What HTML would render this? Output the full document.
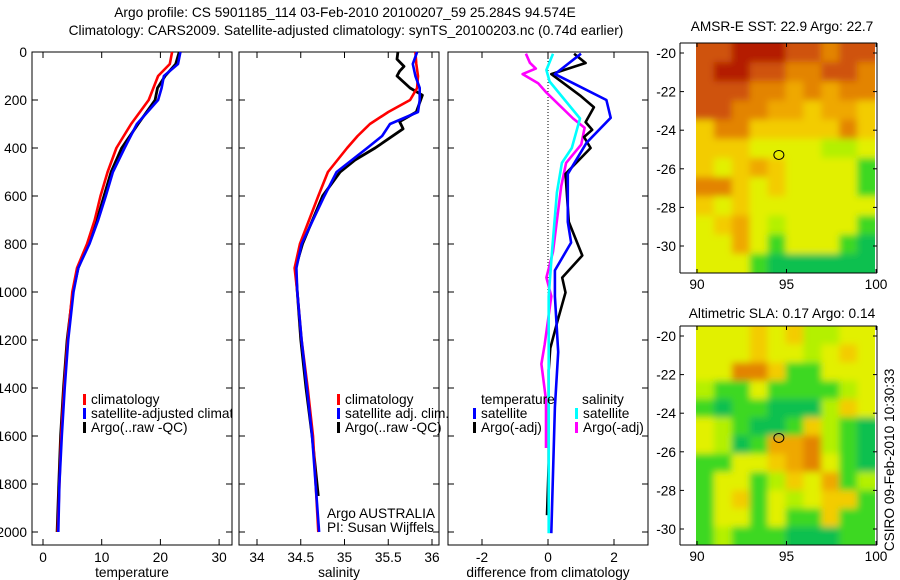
<!DOCTYPE html>
<html><head><meta charset="utf-8">
<style>
html,body{margin:0;padding:0;background:#fff;}
svg{display:block;font-family:"Liberation Sans",sans-serif;}
text{font-size:13.7px;fill:#000;}
</style></head>
<body>
<svg id="c" width="900" height="580" viewBox="0 0 900 580">
<defs>
<filter id="fblur" filterUnits="userSpaceOnUse" x="680" y="0" width="220" height="580"><feGaussianBlur stdDeviation="3.5"/></filter>
</defs>
<text x="345" y="17" text-anchor="middle">Argo profile: CS 5901185_114 03-Feb-2010 20100207_59 25.284S 94.574E</text>
<text x="346" y="35" text-anchor="middle">Climatology: CARS2009. Satellite-adjusted climatology: synTS_20100203.nc (0.74d earlier)</text>
<text x="782" y="31" text-anchor="middle">AMSR-E SST: 22.9 Argo: 22.7</text>
<text x="782" y="318" text-anchor="middle">Altimetric SLA: 0.17 Argo: 0.14</text>
<text x="0" y="0" transform="translate(894,460) rotate(-90)" text-anchor="middle">CSIRO 09-Feb-2010 10:30:33</text>
</svg>
<script>
// ---------- data ----------
var tDepth=[0,50,100,150,200,300,400,500,600,700,800,900,1000,1200,1400,1600,1800,2000];
var tClim=[22,21.6,19.6,18.8,18,15,12.5,11,9.8,8.8,7.5,5.8,5,4.2,3.6,3.1,2.8,2.5];
var tSat=[23.4,23,20.6,20.2,19.6,16,13.9,11.9,10.7,9.4,7.9,6,5.2,4.3,3.7,3.2,2.8,2.6];
var tArgo=[23.2,22.6,20.8,19.5,19.1,16.2,13.4,11.6,10.4,9.2,7.7,6,5.1,4.1,3.5,3,2.7,2.4];
var sDepth=[0,50,100,150,200,250,300,350,400,500,600,800,900,1000,1200,1400,1600,2000];
var sClim=[35.81,35.82,35.84,35.83,35.75,35.5,35.29,35.15,35.03,34.81,34.70,34.49,34.43,34.46,34.51,34.58,34.64,34.70];
var sSat=[35.83,35.78,35.81,35.86,35.86,35.84,35.52,35.43,35.26,34.91,34.77,34.51,34.45,34.46,34.51,34.57,34.63,34.71];
var aDepth=[0,30,60,80,100,150,180,250,290,320,400,450,500,600,800,900,1000,1200,1400,1600,1850];
var sArgo=[35.61,35.6,35.68,35.63,35.6,35.75,35.89,35.82,35.63,35.67,35.35,35.12,34.95,34.75,34.52,34.44,34.46,34.5,34.56,34.63,34.7];
var dtSatDepth=[7,92,130,200,274,378,508,708,794,910,1018,1250,1480,2005];
var dtSat=[1.0,0.21,0.76,1.77,1.9,1.17,0.6,0.6,0.7,0.21,0.21,0.31,0.21,0.1];
var dtArgoDepth=[7,46,92,184,230,292,324,354,400,508,708,848,940,1002,1126,1234,1325,1712,1930];
var dtArgo=[0.79,1.14,0.1,1.0,1.39,1.14,1.34,1.09,1.29,0.53,0.63,1.04,0.43,0.53,0.28,0.07,0.02,0.02,-0.03];
var dsSatDepth=[7,75,123,277,400,462,586,832,1018,1325,2005];
var dsSat=[0.15,-0.05,0.05,0.97,0.72,0.42,0.27,0.12,0.02,0.02,0.02];
var dsArgoDepth=[7,45,69,92,130,169,277,316,385,462,560,832,940,1018,1218,1300,1450,1650];
var dsArgo=[-0.67,-0.55,-0.37,-0.77,-0.3,-0.05,0.76,1.11,1.01,0.55,0.4,0.15,-0.05,0.1,-0.1,-0.2,-0.06,-0.06];
var depthTicks=[0,200,400,600,800,1000,1200,1400,1600,1800,2000];
var tTicks=[0,10,20,30];
var sTicks=[34,34.5,35,35.5,36];
var dTicks=[-2,0,2];
var latTicks=[-20,-22,-24,-26,-28,-30];
var lonTicks=[90,95,100];
var sstGrid=["rrRRRrrorr","rRRrroorro","rrrooOoOoo","rrooOOyOOy","yooyyyyyoy","yyyYYYYggY","yYyOyYYYYG","ooyYyYYYYG","yYyYYYYYYY","YyOYgYYYYG","YYOYGYYYGD","YYYGDDDDDD"];
var slaGrid=["YYYyYyggYY","YYYyYYgYyY","YYooyGGYYY","gGGYGGGGgY","GDGGDDDgyY","YgGDDGygGD","YgDGOOogGD","GGYYyOoYGD","GYYGgyYOGg","GYyGYgYyyG","GYYGYGGyGG","GgGGGDDDGG"];
var cmap={R:"#b41e00",r:"#cf5208",o:"#e38400",O:"#efa800",y:"#f3cc00",Y:"#e2f000",g:"#b4f000",G:"#3cd820",D:"#10c050"};

// ---------- helpers ----------
var NS="http://www.w3.org/2000/svg",svg=document.getElementById('c');
function el(t,a,p){var e=document.createElementNS(NS,t);for(var k in a)e.setAttribute(k,a[k]);(p||svg).appendChild(e);return e;}
var Y0=52,YS=0.24;
function yD(d){return Y0+d*YS;}
function panel(name,x0,x1,xs,ticks,label,fmt){
  var g=el('g',{});
  
  
  var r=el('rect',{x:x0,y:Y0,width:x1-x0,height:545-Y0,fill:'none',stroke:'#000','stroke-width':1},g);
  
  
  ticks.forEach(function(v){var x=xs(v);
    el('line',{x1:x,x2:x,y1:545,y2:539,stroke:'#000'},g);
    el('line',{x1:x,x2:x,y1:Y0,y2:Y0+6,stroke:'#000'},g);
    var t=el('text',{x:x,y:562,'text-anchor':'middle'},g);t.textContent=fmt?fmt(v):v;
    
    
  });
  depthTicks.forEach(function(d){var y=yD(d);
    el('line',{x1:x0,x2:x0+6,y1:y,y2:y,stroke:'#000'},g);
    el('line',{x1:x1,x2:x1-6,y1:y,y2:y,stroke:'#000'},g);
  });
  var t=el('text',{x:(x0+x1)/2,y:577,'text-anchor':'middle'},g);t.textContent=label;
  
  
  return g;
}
function line(g,xs,vals,depths,col,name,w){
  var pts=vals.map(function(v,i){return xs(v).toFixed(1)+','+yD(depths[i]).toFixed(1);}).join(' ');
  var p=el('polyline',{points:pts,fill:'none',stroke:col,'stroke-width':w||2.6,'stroke-linejoin':'round'},g);
  
  
}
function legend(g,x,y,items){
  items.forEach(function(it,i){
    var yy=y+i*14;
    el('rect',{x:x,y:yy-10,width:3,height:11,fill:it[0]},g);
    var t=el('text',{x:x+8,y:yy},g);t.textContent=it[1];
    
    
  });
}
depthTicks.forEach(function(d){var t=el('text',{x:27,y:yD(d)+5,'text-anchor':'end'});t.textContent=d;
  
  });

// Panel 1 temperature
var xT=function(v){return 43+v*5.87;};
var cp=el('clipPath',{id:'cp1'});el('rect',{x:32,y:52,width:200,height:493},cp);
var g1=panel('temperature-panel',32,232,xT,tTicks,'temperature');
line(g1,xT,tArgo,tDepth,'#000','temp-argo-line',2.8);
line(g1,xT,tClim,tDepth,'#f00','temp-climatology-line');
line(g1,xT,tSat,tDepth,'#00f','temp-satellite-line');
var lg1=el('g',{'clip-path':'url(#cp1)'},g1);
legend(lg1,83,404,[['#f00','climatology'],['#00f','satellite-adjusted climatology'],['#000','Argo(..raw -QC)']]);

// Panel 2 salinity
var xS=function(v){return 257+(v-34)*87.5;};
var g2=panel('salinity-panel',239,439,xS,sTicks,'salinity');
line(g2,xS,sArgo,aDepth,'#000','sal-argo-line',2.8);
line(g2,xS,sClim,sDepth,'#f00','sal-climatology-line');
line(g2,xS,sSat,sDepth,'#00f','sal-satellite-line');
legend(g2,337,404,[['#f00','climatology'],['#00f','satellite adj. clim.'],['#000','Argo(..raw -QC)']]);
var t=el('text',{x:327,y:518},g2);t.textContent='Argo AUSTRALIA';

t=el('text',{x:327,y:532},g2);t.textContent='PI: Susan Wijffels';


// Panel 3 differences
var xDf=function(v){return 548+v*33;};
var g3=panel('difference-panel',448,648,xDf,dTicks,'difference from climatology');
el('line',{x1:548,x2:548,y1:52,y2:390,stroke:'#000','stroke-dasharray':'1,2'},g3);
line(g3,xDf,dsArgo,dsArgoDepth,'#f0f','dsal-argo-line');
line(g3,xDf,dtArgo,dtArgoDepth,'#000','dtemp-argo-line');
line(g3,xDf,dtSat,dtSatDepth,'#00f','dtemp-satellite-line');
line(g3,xDf,dsSat,dsSatDepth,'#0ff','dsal-satellite-line');
var t=el('text',{x:481,y:404},g3);t.textContent='temperature';

t=el('text',{x:582,y:404},g3);t.textContent='salinity';

legend(g3,473,418,[['#00f','satellite'],['#000','Argo(-adj)']]);
legend(g3,575,418,[['#0ff','satellite'],['#f0f','Argo(-adj)']]);

// Maps
function map(name,top,bot,grid,cx,cy){
  var g=el('g',{});
  
  
  var id='clip'+name;
  var c=el('clipPath',{id:id},g);el('rect',{x:696,y:top,width:179,height:bot-top},c);
  var cg=el('g',{'clip-path':'url(#'+id+')'},g);
  var ig=el('g',{filter:'url(#fblur)'},cg);
  var rows=grid.length,cols=grid[0].length,cw=179/cols,ch=(bot-top)/rows;
  for(var r=0;r<rows;r++)for(var k=0;k<cols;k++){
    var cell=el('rect',{x:696+k*cw-(k==0?8:0),y:top+r*ch-(r==0?8:0),width:cw+1+(k==0||k==cols-1?8:0),height:ch+1+(r==0||r==rows-1?8:0),fill:cmap[grid[r][k]]},ig);
    
    
  }
  el('line',{x1:680,x2:877,y1:top,y2:top,stroke:'#000'},g);
  el('line',{x1:680,x2:877,y1:bot,y2:bot,stroke:'#000'},g);
  el('line',{x1:680,x2:680,y1:top,y2:bot,stroke:'#000'},g);
  el('line',{x1:877,x2:877,y1:top,y2:bot,stroke:'#000'},g);
  var lat=function(v){return top+10+(-20-v)*19.3;};
  var lon=function(v){return 697+(v-90)*17.9;};
  latTicks.forEach(function(v){var y=lat(v);
    el('line',{x1:680,x2:684,y1:y,y2:y,stroke:'#000'},g);el('line',{x1:877,x2:873,y1:y,y2:y,stroke:'#000'},g);
    var t=el('text',{x:676,y:y+5,'text-anchor':'end'},g);t.textContent=v;
    });
  lonTicks.forEach(function(v){var x=lon(v);
    el('line',{x1:x,x2:x,y1:top,y2:top+4,stroke:'#000'},g);el('line',{x1:x,x2:x,y1:bot,y2:bot-4,stroke:'#000'},g);
    var t=el('text',{x:x,y:bot+16,'text-anchor':'middle'},g);t.textContent=v;
    });
  var ci=el('ellipse',{cx:lon(cx),cy:lat(cy),rx:5,ry:4.5,fill:'none',stroke:'#000','stroke-width':1},g);
  
  
}
map('sst-map',43,273,sstGrid,94.574,-25.284);
map('sla-map',326,545,slaGrid,94.574,-25.284);
</script>
</body></html>
